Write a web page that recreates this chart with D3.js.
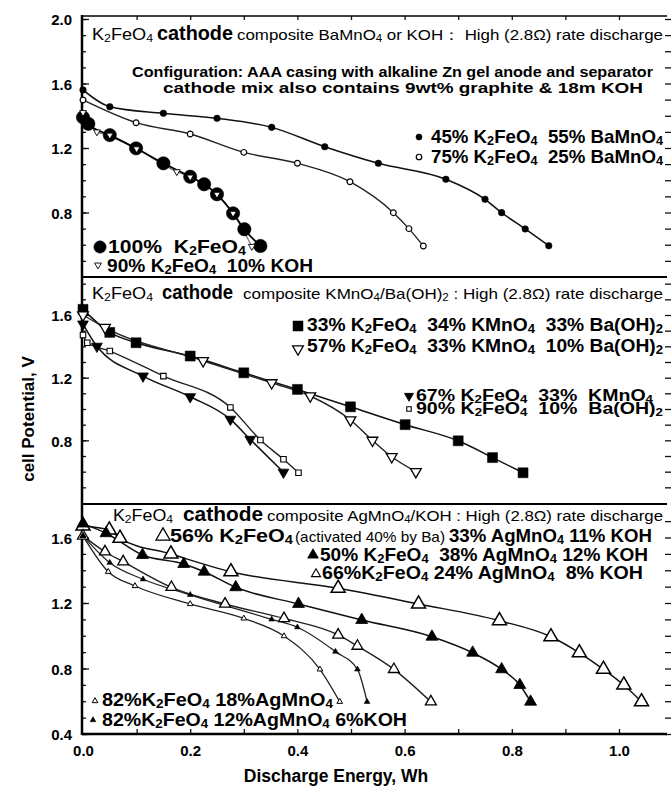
<!DOCTYPE html>
<html>
<head>
<meta charset="utf-8">
<script src="https://cdn.jsdelivr.net/npm/d3@7"></script>
<style>
body { margin: 0; background: #fff; }
svg text { font-family: "Liberation Sans", Arial, sans-serif; fill: #000; white-space: pre; }
</style>
</head>
<body>
<div id="chart"></div>
<script>
// Discharge Energy (Wh), cell Potential (V) pairs

// top panel: BaMnO4 or KOH composites
var ba45 = [[0, 1.56], [0.05, 1.456], [0.15, 1.415], [0.25, 1.384], [0.352, 1.328], [0.451, 1.208], [0.551, 1.105], [0.677, 1.006], [0.75, 0.882], [0.781, 0.799], [0.825, 0.698], [0.869, 0.594]];
var ba75 = [[0, 1.498], [0.099, 1.357], [0.2, 1.287], [0.3, 1.173], [0.4, 1.105], [0.498, 0.991], [0.579, 0.799], [0.608, 0.70], [0.635, 0.592]];
var fe100 = [[0, 1.39], [0.01, 1.35], [0.05, 1.28], [0.099, 1.198], [0.15, 1.105], [0.2, 1.022], [0.226, 0.975], [0.25, 0.913], [0.28, 0.795], [0.301, 0.696], [0.331, 0.592]];
var koh90 = [[0, 1.42], [0.026, 1.30], [0.05, 1.28], [0.1, 1.195], [0.175, 1.053], [0.2, 1.02], [0.25, 0.913], [0.28, 0.795], [0.315, 0.59]];

// middle panel: KMnO4/Ba(OH)2 composites
var mn33 = [[0, 1.636], [0.05, 1.489], [0.099, 1.423], [0.2, 1.338], [0.3, 1.231], [0.4, 1.125], [0.499, 1.014], [0.601, 0.90], [0.70, 0.797], [0.764, 0.69], [0.821, 0.593]];
var mn57 = [[0, 1.60], [0.041, 1.52], [0.224, 1.308], [0.352, 1.167], [0.424, 1.083], [0.499, 0.93], [0.54, 0.80], [0.576, 0.695], [0.621, 0.60]];
var mn67 = [[0, 1.542], [0.026, 1.40], [0.112, 1.21], [0.2, 1.078], [0.275, 0.934], [0.312, 0.806], [0.374, 0.596]];
var bh90 = [[0, 1.472], [0.008, 1.423], [0.05, 1.37], [0.15, 1.21], [0.275, 1.01], [0.331, 0.802], [0.374, 0.679], [0.402, 0.593]];

// bottom panel: AgMnO4/KOH composites
var ag56 = [[0, 1.67], [0.049, 1.646], [0.069, 1.595], [0.164, 1.499], [0.276, 1.391], [0.476, 1.29], [0.626, 1.194], [0.777, 1.092], [0.873, 0.994], [0.926, 0.896], [0.971, 0.795], [1.009, 0.699], [1.042, 0.597]];
var ag50 = [[0, 1.685], [0.043, 1.626], [0.111, 1.493], [0.188, 1.438], [0.226, 1.391], [0.285, 1.296], [0.402, 1.194], [0.52, 1.096], [0.651, 0.994], [0.727, 0.896], [0.781, 0.795], [0.815, 0.699], [0.835, 0.597]];
var ag66 = [[0, 1.61], [0.041, 1.513], [0.075, 1.452], [0.165, 1.296], [0.265, 1.194], [0.375, 1.106], [0.476, 1.005], [0.512, 0.937], [0.58, 0.795], [0.649, 0.597]];
var ag82 = [[0, 1.61], [0.047, 1.391], [0.097, 1.304], [0.2, 1.194], [0.3, 1.106], [0.375, 0.998], [0.442, 0.795], [0.479, 0.597]];
var ag82k = [[0, 1.61], [0.05, 1.446], [0.112, 1.345], [0.2, 1.25], [0.352, 1.10], [0.40, 1.052], [0.471, 0.903], [0.512, 0.795], [0.53, 0.597]];

var xTicks = [0, 0.2, 0.4, 0.6, 0.8, 1.0];
var yTicks1 = [0.8, 1.2, 1.6, 2.0];
var yTicks2 = [0.8, 1.2, 1.6];
var yTicks3 = [0.4, 0.8, 1.2, 1.6];

var svgWidth = 672;
var svgHeight = 787;

var svg = d3.select("#chart")
  .append("svg")
  .attr("width", svgWidth)
  .attr("height", svgHeight);

var frame = { left: 82, right: 667, top: 16, cut1: 277, cut2: 504, bottom: 734 };

var xScale = d3.scaleLinear().domain([0, 1]).range([83, 619]);
var y1 = d3.scaleLinear().domain([0.4, 2.0]).range([277, 19]);
var y2 = d3.scaleLinear().domain([0.4, 1.6]).range([503, 315]);
var y3 = d3.scaleLinear().domain([0.4, 1.6]).range([734, 537.5]);

function range01(a, b) {
  var out = [];
  for (var i = Math.round(a * 10); i <= Math.round(b * 10); i++) out.push(i / 10);
  return out;
}

// left / right ticks for each panel
function yAxes(yScale, major, lo, hi) {
  var minor = range01(lo, hi);
  svg.append("g")
    .attr("transform", "translate(" + frame.left + ",0)")
    .call(d3.axisLeft(yScale).tickValues(minor).tickSize(-4).tickFormat(""));
  svg.append("g")
    .attr("class", "major")
    .attr("transform", "translate(" + frame.left + ",0)")
    .call(d3.axisLeft(yScale).tickValues(major).tickSizeInner(-7).tickSizeOuter(0).tickPadding(10).tickFormat(d3.format(".1f")));
  svg.append("g")
    .attr("transform", "translate(665,0)")
    .call(d3.axisRight(yScale).tickValues(minor).tickSize(6).tickFormat(""));
}
yAxes(y1, yTicks1, 0.5, 2.0);
yAxes(y2, yTicks2, 0.5, 1.8);
yAxes(y3, yTicks3, 0.4, 1.7);

svg.selectAll(".domain").remove();
svg.selectAll(".major text")
  .style("font-size", "15px")
  .style("font-weight", "bold")
  .attr("dy", "0.38em");

// x ticks top and bottom
svg.append("g")
  .attr("transform", "translate(0," + frame.top + ")")
  .call(d3.axisBottom(xScale).tickValues(range01(0.1, 1.0)).tickSize(4).tickFormat(""))
  .select(".domain").remove();
var bottomAxis = svg.append("g")
  .attr("transform", "translate(0," + frame.bottom + ")")
  .call(d3.axisBottom(xScale).tickValues(range01(0.1, 1.0)).tickSize(-5).tickFormat(""));
bottomAxis.select(".domain").remove();
var bottomLabels = svg.append("g")
  .attr("transform", "translate(0," + frame.bottom + ")")
  .call(d3.axisBottom(xScale).tickValues(xTicks).tickSize(0).tickPadding(11).tickFormat(d3.format(".1f")));
bottomLabels.select(".domain").remove();
bottomLabels.selectAll("text").style("font-size", "15px").style("font-weight", "bold");
svg.selectAll(".tick line").attr("stroke", "#111").attr("stroke-width", 1.3);
// drop the empty labels left by the unlabeled tick sets
svg.selectAll(".tick text").filter(function() { return this.textContent === ""; }).remove();

// frame lines
svg.append("line").attr("x1", frame.left).attr("x2", frame.left).attr("y1", frame.top - 1).attr("y2", frame.bottom + 1)
  .attr("stroke", "#000").attr("stroke-width", 2.5);
[[frame.top, 1.6], [frame.cut1, 2.2], [frame.cut2, 2.2], [frame.bottom, 2.6]].forEach(function(d) {
  svg.append("line").attr("x1", frame.left).attr("x2", frame.right).attr("y1", d[0]).attr("y2", d[0])
    .attr("stroke", "#000").attr("stroke-width", d[1]);
});

// curves
function curve(data, yScale, color, width) {
  svg.append("path")
    .datum(data)
    .attr("fill", "none")
    .attr("stroke", color)
    .attr("stroke-width", width)
    .attr("d", d3.line()
      .x(function(d) { return xScale(d[0]); })
      .y(function(d) { return yScale(d[1]); })
      .curve(d3.curveMonotoneX));
}

function marks(data, yScale, type, size, fill, sw, rot) {
  svg.append("g").selectAll("path")
    .data(data)
    .enter()
    .append("path")
    .attr("d", d3.symbol().type(type).size(size))
    .attr("transform", function(d) {
      return "translate(" + xScale(d[0]) + "," + yScale(d[1]) + ")" + (rot ? " rotate(180)" : "");
    })
    .attr("fill", fill)
    .attr("stroke", "#000")
    .attr("stroke-width", sw);
}

function marker(x, y, type, size, fill, sw, rot) {
  svg.append("path")
    .attr("d", d3.symbol().type(type).size(size))
    .attr("transform", "translate(" + x + "," + y + ")" + (rot ? " rotate(180)" : ""))
    .attr("fill", fill).attr("stroke", "#000").attr("stroke-width", sw);
}

curve(ba45, y1, "#111", 1.5);
curve(ba75, y1, "#222", 1.4);
curve(koh90, y1, "#777", 1.2);
curve(fe100, y1, "#000", 1.8);
marks(ba45, y1, d3.symbolCircle, 34, "#000", 0.5);
marks(ba75, y1, d3.symbolCircle, 26, "#fff", 1.2);
marks(fe100, y1, d3.symbolCircle, 140, "#000", 0.5);
marks(koh90, y1, d3.symbolTriangle, 20, "#fff", 0.9, true);

curve(mn33, y2, "#111", 1.5);
curve(mn57, y2, "#222", 1.4);
curve(mn67, y2, "#111", 1.5);
curve(bh90, y2, "#222", 1.4);
marks(mn33, y2, d3.symbolSquare, 100, "#000", 0.5);
marks(mn57, y2, d3.symbolTriangle, 50, "#fff", 1.3, true);
marks(mn67, y2, d3.symbolTriangle, 50, "#000", 0.8, true);
marks(bh90, y2, d3.symbolSquare, 30, "#fff", 1.1);

curve(ag56, y3, "#111", 1.5);
curve(ag50, y3, "#111", 1.5);
curve(ag66, y3, "#222", 1.4);
curve(ag82, y3, "#222", 1.3);
curve(ag82k, y3, "#222", 1.3);
marks(ag56, y3, d3.symbolTriangle, 85, "#fff", 1.5);
marks(ag50, y3, d3.symbolTriangle, 62, "#000", 0.8);
marks(ag66, y3, d3.symbolTriangle, 52, "#fff", 1.3);
marks(ag82, y3, d3.symbolTriangle, 14, "#fff", 1);
marks(ag82k, y3, d3.symbolTriangle, 14, "#000", 0.6);

// text with "_x" as a subscript character
function label(x, y, str, size, weight, len, anchor) {
  var t = svg.append("text")
    .attr("x", x).attr("y", y)
    .attr("text-anchor", anchor || "start")
    .style("font-size", size + "px")
    .style("font-weight", weight);
  var shift = Math.round(size * 0.12);
  var down = false;
  str.split(/(_.)/).filter(function(b) { return b.length > 0; }).forEach(function(b) {
    if (b[0] === "_") {
      t.append("tspan").attr("dy", down ? 0 : shift).style("font-size", (size * 0.68) + "px").text(b[1]);
      down = true;
    } else {
      t.append("tspan").attr("dy", down ? -shift : 0).text(b);
      down = false;
    }
  });
  if (len) t.attr("textLength", len).attr("lengthAdjust", "spacingAndGlyphs");
  return t;
}

// panel titles
label(92, 40, "K_2FeO_4", 17, "normal", 61);
label(157, 40, "cathode", 20, "bold", 76);
label(237, 40, "composite BaMnO_4 or KOH\uFF1A High (2.8\u03A9) rate discharge", 15, "normal", 426);
label(132, 77, "Configuration: AAA casing with alkaline Zn gel anode and separator", 15, "bold", 521);
label(163, 93, "cathode mix also contains 9wt% graphite & 18m KOH", 15, "bold", 480);

label(92, 299, "K_2FeO_4", 17, "normal", 61);
label(162, 299, "cathode", 20, "bold", 71);
label(243, 299, "composite KMnO_4/Ba(OH)_2 : High (2.8\u03A9) rate discharge", 15, "normal", 420);

label(113, 521, "K_2FeO_4", 17, "normal", 60);
label(183, 521, "cathode", 20, "bold", 80);
label(267, 521, "composite AgMnO_4/KOH : High (2.8\u03A9) rate discharge", 15, "normal", 396);

// legends, top panel
marker(419, 137, d3.symbolCircle, 30, "#000", 0.5);
label(431, 143, "45% K_2FeO_4  55% BaMnO_4", 19, "bold", 232);
marker(419, 157, d3.symbolCircle, 24, "#fff", 1.2);
label(431, 163, "75% K_2FeO_4  25% BaMnO_4", 19, "bold", 232);
marker(100, 247, d3.symbolCircle, 120, "#000", 0.5);
label(108, 253, "100%  K_2FeO_4", 18, "bold", 138);
marker(98, 265, d3.symbolTriangle, 20, "#fff", 0.9, true);
label(107, 272, "90% K_2FeO_4  10% KOH", 18, "bold", 206);

// legends, middle panel
marker(298, 326, d3.symbolSquare, 100, "#000", 0.5);
label(307, 331, "33% K_2FeO_4  34% KMnO_4  33% Ba(OH)_2", 18, "bold", 356);
marker(298, 349, d3.symbolTriangle, 50, "#fff", 1.3, true);
label(307, 352, "57% K_2FeO_4  33% KMnO_4  10% Ba(OH)_2", 18, "bold", 356);
marker(409, 396, d3.symbolTriangle, 36, "#000", 0.8, true);
label(416, 401, "67% K_2FeO_4  33%  KMnO_4", 16, "bold", 237);
marker(409, 409, d3.symbolSquare, 20, "#fff", 1.1);
label(416, 414, "90% K_2FeO_4  10%  Ba(OH)_2", 16, "bold", 247);

// legends, bottom panel
marker(163, 536, d3.symbolTriangle, 85, "#fff", 1.3);
label(170, 542, "56% K_2FeO_4", 18.5, "bold", 123);
label(295, 542, "(activated 40% by Ba)", 14.5, "normal", 150);
label(449, 542, "33% AgMnO_4 11% KOH", 18.5, "bold", 203);
marker(313, 555, d3.symbolTriangle, 50, "#000", 0.8);
label(320, 561, "50% K_2FeO_4  38% AgMnO_4 12% KOH", 18, "bold", 328);
marker(316, 574, d3.symbolTriangle, 36, "#fff", 1.1);
label(322, 579, "66%K_2FeO_4 24% AgMnO_4  8% KOH", 18, "bold", 321);
marker(95, 701, d3.symbolTriangle, 14, "#fff", 1);
label(102, 706, "82%K_2FeO_4 18%AgMnO_4", 18, "bold", 231);
marker(93, 720, d3.symbolTriangle, 14, "#000", 0.6);
label(102, 726, "82%K_2FeO_4 12%AgMnO_4 6%KOH", 18, "bold", 305);

// axis titles
svg.append("text")
  .attr("transform", "translate(34,419) rotate(-90)")
  .attr("text-anchor", "middle")
  .style("font-size", "17px")
  .style("font-weight", "bold")
  .text("cell Potential, V");

svg.append("text")
  .attr("x", 336)
  .attr("y", 782)
  .attr("text-anchor", "middle")
  .style("font-size", "17.5px")
  .style("font-weight", "bold")
  .text("Discharge Energy, Wh");
</script>
</body>
</html>
